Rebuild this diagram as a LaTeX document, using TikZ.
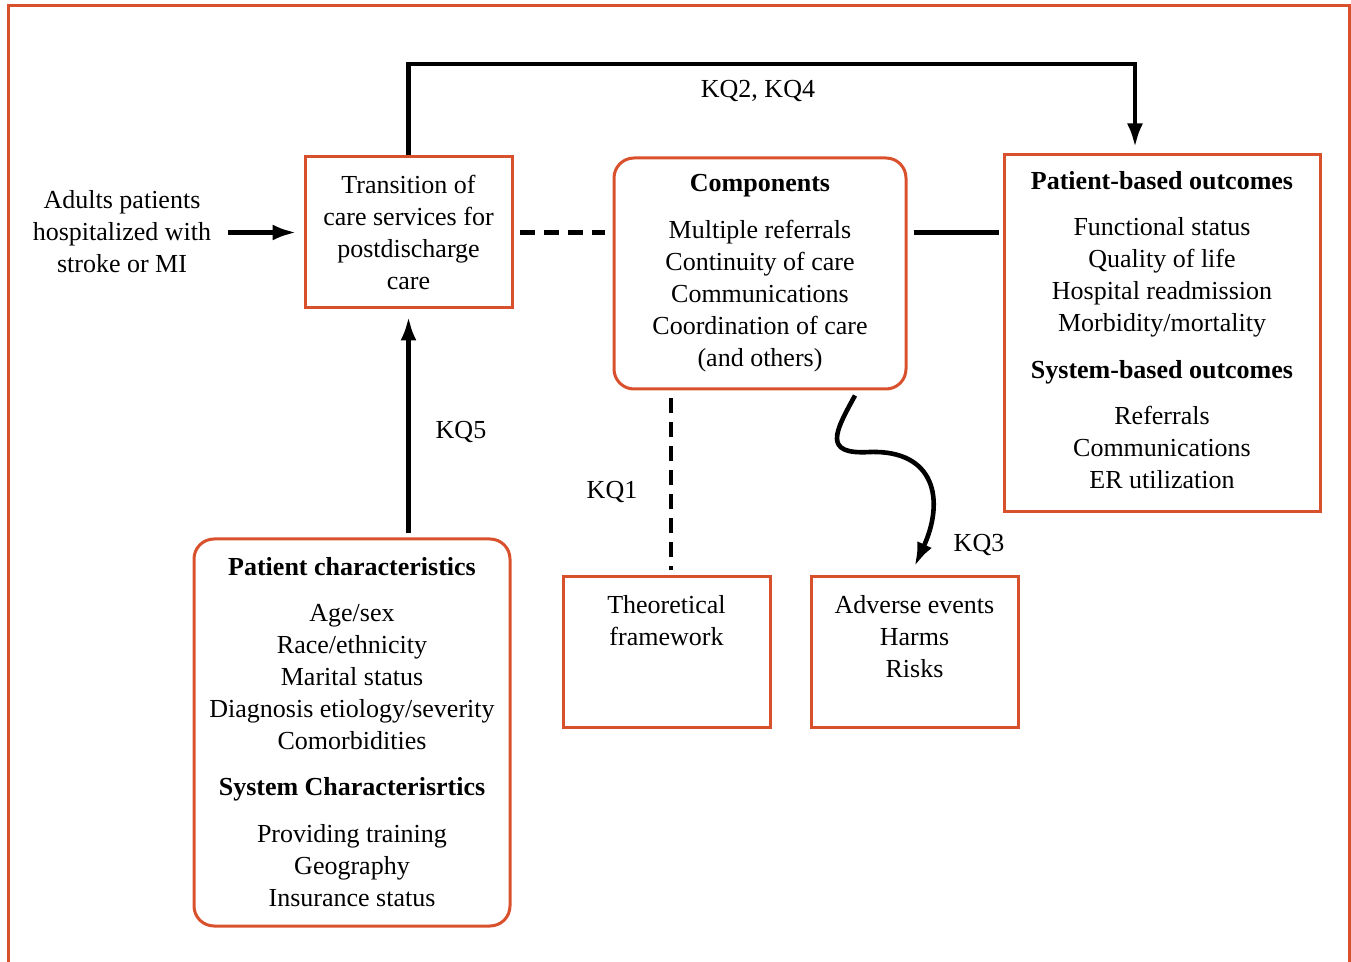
\documentclass[tikz,border=0pt]{standalone}
\usepackage{fontspec}
\setmainfont{Liberation Serif}
\usetikzlibrary{arrows.meta,calc}
\definecolor{framered}{HTML}{D9512C}

\begin{document}
\begin{tikzpicture}[
    x=0.5pt, y=-0.5pt,
    box/.style={rectangle, draw=framered, line width=1.5pt, align=center, inner sep=0pt},
    roundbox/.style={box, rounded corners=10pt},
    arrow/.style={line width=2.3pt, -{Latex[length=12pt,width=8pt]}},
    link/.style={line width=2.3pt},
    kqdash/.style={dash pattern=on 7.5pt off 4.5pt},
    every node/.style={font=\fontsize{13}{16}\selectfont}
]
\useasboundingbox (0,0) rectangle (1351,962);

% Frame
\draw[framered, line width=1.5pt] (8,990) -- (8,6) -- (1349,6) -- (1349,990);

% Nodes
\node (adults) at (122,232) [align=center] {Adults patients\\hospitalized with\\stroke or MI};
\node[box, minimum width=103.5pt, minimum height=75.5pt] (trans) at (408.5,232.5)
    {Transition of\\care services for\\postdischarge\\care};
\node[roundbox, minimum width=146pt, minimum height=115.5pt] (comp) at (760,273.5)
    {\textbf{Components}\\[7.5pt]Multiple referrals\\Continuity of care\\Communications\\Coordination of care\\(and others)};
\node[box, minimum width=158pt, minimum height=178.5pt] (out) at (1162,333.5)
    {\textbf{Patient-based outcomes}\\[7pt]Functional status\\Quality of life\\Hospital readmission\\Morbidity/mortality\\[7.5pt]
     \textbf{System-based outcomes}\\[7pt]Referrals\\Communications\\ER utilization\\[-12pt]~};
\node[roundbox, minimum width=158pt, minimum height=193.5pt] (pat) at (352,732.5)
    {\textbf{Patient characteristics}\\[7pt]Age/sex\\Race/ethnicity\\Marital status\\Diagnosis etiology/severity\\Comorbidities\\[7pt]
     \textbf{System Characterisrtics}\\[7.5pt]Providing training\\Geography\\Insurance status};
\node[box, minimum width=103.5pt, minimum height=75.5pt] (theory) at (666.5,652.5)
    {Theoretical\\framework\\~\\~};
\node[box, minimum width=103.5pt, minimum height=75.5pt] (adv) at (914.5,652.5)
    {Adverse events\\Harms\\Risks\\~};

% Labels
\node (kq24) at (758,91) {KQ2, KQ4};
\node (kq5) at (461,432) {KQ5};
\node (kq1) at (612,492) {KQ1};
\node (kq3) at (979,545) {KQ3};

% Arrows
\draw[arrow, shorten <=5pt, shorten >=3.5pt] (adults.east |- trans.west) -- (trans.west);
\draw[arrow] (trans.north) |- (1135,64) -- ($(out.north -| 1135,0)+(0,-6)$);
\draw[link, kqdash] ($(trans.east)+(6,0)$) -- ($(comp.west |- trans.east)+(-8,0)$);
\draw[link] ($(comp.east |- trans.east)+(6,0)$) -- ($(out.west |- trans.east)+(-4,0)$);
\draw[arrow, shorten <=2pt, shorten >=3.5pt] (pat.north -| trans.south) -- (trans.south);
\draw[link, kqdash] ($(theory.north |- comp.south)+(4.5,8)$) -- ($(theory.north)+(4.5,-5)$);
\draw[arrow] ($(comp.south)+(95,5)$) .. controls (835,432) and (822,455) .. (870,452)
    .. controls (935,450) and (945,500) .. ($(adv.north)+(0,-9)$);

\end{tikzpicture}
\end{document}
